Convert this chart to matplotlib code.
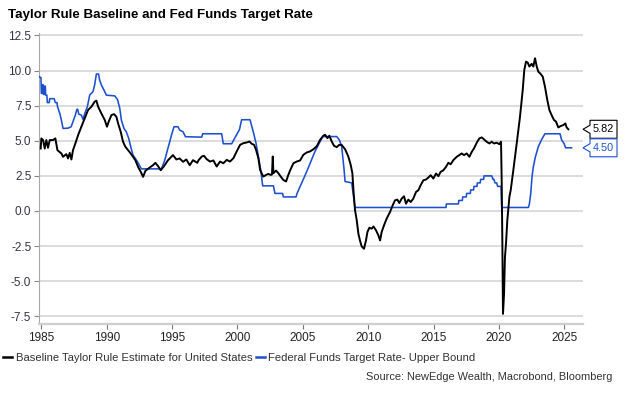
# Taylor rule baseline vs fed funds target rate (upper bound)
import matplotlib
matplotlib.use('Agg')
import matplotlib.pyplot as plt
from matplotlib.patches import Polygon
from matplotlib.ticker import FormatStrFormatter
from matplotlib.lines import Line2D

plt.rcParams['font.family'] = ['Liberation Sans', 'DejaVu Sans']

# --- data (decimal years, percent) ---
taylor_years = [1984.95, 1985.00, 1985.13, 1985.26, 1985.38, 1985.51, 1985.64, 1985.89, 1986.07, 1986.23,
                1986.53, 1986.66, 1986.91, 1987.04, 1987.17, 1987.30, 1987.42, 1987.60, 1987.81, 1988.06,
                1988.32, 1988.57, 1988.83, 1989.08, 1989.21, 1989.34, 1989.59, 1989.85, 1990.02, 1990.15,
                1990.36, 1990.56, 1990.74, 1990.87, 1991.07, 1991.25, 1991.43, 1991.63, 1991.83, 1992.01,
                1992.19, 1992.40, 1992.60, 1992.78, 1992.96, 1993.29, 1993.54, 1993.72, 1993.93, 1994.13,
                1994.38, 1994.69, 1995.07, 1995.33, 1995.58, 1995.84, 1996.09, 1996.35, 1996.60, 1996.93,
                1997.01, 1997.27, 1997.44, 1997.65, 1997.90, 1998.16, 1998.41, 1998.67, 1998.92, 1999.18,
                1999.43, 1999.69, 1999.94, 2000.20, 2000.45, 2000.71, 2000.91, 2001.09, 2001.27, 2001.42,
                2001.60, 2001.73, 2001.85, 2001.98, 2002.19, 2002.36, 2002.54, 2002.64, 2002.70, 2002.75,
                2002.95, 2003.13, 2003.31, 2003.51, 2003.72, 2003.89, 2004.07, 2004.28, 2004.53, 2004.79,
                2005.04, 2005.30, 2005.55, 2005.81, 2006.06, 2006.32, 2006.57, 2006.70, 2006.88, 2007.03,
                2007.21, 2007.39, 2007.59, 2007.79, 2007.97, 2008.23, 2008.48, 2008.66, 2008.79, 2008.87,
                2008.99, 2009.12, 2009.25, 2009.37, 2009.50, 2009.68, 2009.83, 2009.94, 2010.09, 2010.27,
                2010.40, 2010.60, 2010.78, 2010.91, 2011.03, 2011.21, 2011.41, 2011.67, 2011.87, 2012.05,
                2012.23, 2012.38, 2012.56, 2012.74, 2012.89, 2013.07, 2013.25, 2013.45, 2013.66, 2013.84,
                2014.01, 2014.22, 2014.42, 2014.60, 2014.78, 2014.98, 2015.19, 2015.37, 2015.54, 2015.75,
                2015.95, 2016.13, 2016.31, 2016.51, 2016.77, 2016.97, 2017.15, 2017.33, 2017.53, 2017.74,
                2017.92, 2018.09, 2018.30, 2018.50, 2018.68, 2018.86, 2019.06, 2019.27, 2019.45, 2019.62,
                2019.83, 2020.03, 2020.16, 2020.21, 2020.26, 2020.31, 2020.39, 2020.46, 2020.54, 2020.64,
                2020.80, 2020.90, 2021.10, 2021.36, 2021.61, 2021.82, 2021.94, 2022.07, 2022.20, 2022.33,
                2022.50, 2022.63, 2022.76, 2022.89, 2023.01, 2023.19, 2023.35, 2023.52, 2023.70, 2023.86,
                2024.03, 2024.21, 2024.37, 2024.54, 2024.72, 2024.93, 2025.08, 2025.18, 2025.31]
taylor_vals = [4.45, 5.17, 5.05, 4.45, 5.05, 4.50, 5.05, 5.05, 5.17, 4.33,
               4.10, 3.86, 4.05, 3.74, 4.14, 3.67, 4.33, 4.81, 5.40, 6.00,
               6.60, 7.19, 7.43, 7.79, 7.86, 7.43, 6.95, 6.48, 6.00, 6.36,
               6.83, 6.90, 6.71, 6.24, 5.64, 4.93, 4.57, 4.33, 4.10, 3.86,
               3.62, 3.14, 2.79, 2.43, 2.86, 3.10, 3.26, 3.43, 3.19, 2.90,
               3.19, 3.62, 3.98, 3.67, 3.74, 3.50, 3.67, 3.26, 3.62, 3.43,
               3.60, 3.88, 3.93, 3.69, 3.52, 3.60, 3.17, 3.52, 3.40, 3.64,
               3.52, 3.76, 4.24, 4.71, 4.83, 4.88, 4.95, 4.79, 4.71, 4.36,
               3.76, 2.93, 2.69, 2.45, 2.57, 2.64, 2.57, 2.60, 3.88, 2.69,
               2.88, 2.69, 2.45, 2.21, 2.10, 2.57, 2.98, 3.40, 3.52, 3.60,
               4.00, 4.17, 4.24, 4.40, 4.60, 5.07, 5.36, 5.43, 5.19, 5.36,
               4.95, 4.64, 4.55, 4.71, 4.71, 4.40, 3.88, 3.29, 2.69, 1.50,
               0.07, -0.64, -1.62, -2.10, -2.52, -2.69, -2.10, -1.50, -1.19, -1.26,
               -1.10, -1.38, -1.74, -2.10, -1.50, -1.02, -0.55, -0.07, 0.40, 0.76,
               0.81, 0.57, 0.88, 1.05, 0.52, 0.81, 0.64, 0.88, 1.36, 1.48,
               1.83, 2.19, 2.24, 2.38, 2.55, 2.31, 2.67, 2.48, 2.79, 2.90,
               3.14, 3.43, 3.33, 3.62, 3.86, 3.98, 4.10, 3.98, 4.10, 3.86,
               4.21, 4.45, 4.86, 5.17, 5.24, 5.10, 4.93, 4.81, 4.93, 4.81,
               4.86, 4.76, 4.93, 2.19, -2.10, -7.33, -5.90, -3.29, -2.33, -0.67,
               1.00, 1.48, 2.90, 4.81, 6.71, 8.62, 10.05, 10.64, 10.57, 10.29,
               10.48, 10.29, 10.88, 10.29, 9.93, 9.76, 9.57, 8.86, 7.90, 7.19,
               6.83, 6.48, 6.36, 5.95, 6.05, 6.12, 6.24, 5.95, 5.82]

fed_years = [1984.85, 1984.97, 1985.00, 1985.05, 1985.08, 1985.13, 1985.16, 1985.22, 1985.26, 1985.30,
             1985.33, 1985.42, 1985.46, 1985.60, 1985.64, 1985.98, 1986.07, 1986.20, 1986.23, 1986.41,
             1986.53, 1986.66, 1987.04, 1987.28, 1987.42, 1987.60, 1987.72, 1987.78, 1987.86, 1988.06,
             1988.19, 1988.32, 1988.52, 1988.70, 1988.95, 1989.08, 1989.21, 1989.38, 1989.45, 1989.59,
             1989.85, 1989.97, 1990.61, 1990.82, 1991.00, 1991.12, 1991.32, 1991.50, 1991.68, 1991.84,
             1992.01, 1992.19, 1992.40, 1992.65, 1994.13, 1994.23, 1994.44, 1994.64, 1994.82, 1994.95,
             1995.15, 1995.45, 1995.58, 1995.84, 1996.02, 1997.27, 1997.34, 1998.79, 1998.92, 1999.56,
             1999.69, 1999.94, 2000.15, 2000.32, 2000.96, 2001.22, 2001.42, 2001.60, 2001.78, 2001.93,
             2002.75, 2002.87, 2003.45, 2003.51, 2004.48, 2004.56, 2005.30, 2005.93, 2006.52, 2007.59,
             2007.79, 2007.97, 2008.15, 2008.23, 2008.74, 2008.87, 2008.99, 2015.95, 2015.98, 2016.90,
             2016.93, 2017.20, 2017.23, 2017.50, 2017.53, 2017.81, 2017.84, 2018.06, 2018.09, 2018.32,
             2018.35, 2018.57, 2018.60, 2018.83, 2018.86, 2019.45, 2019.55, 2019.62, 2019.70, 2019.83,
             2019.90, 2020.16, 2020.21, 2022.25, 2022.33, 2022.43, 2022.53, 2022.63, 2022.79, 2023.01,
             2023.27, 2023.52, 2024.67, 2024.80, 2024.98, 2025.10, 2025.56]
fed_vals = [9.55, 9.50, 8.38, 8.38, 9.00, 9.00, 8.30, 8.30, 8.90, 8.90,
            8.25, 8.25, 7.72, 7.72, 8.00, 8.00, 7.72, 7.72, 7.45, 6.95,
            6.48, 5.88, 5.90, 6.00, 6.36, 6.83, 7.24, 7.24, 6.90, 6.83,
            6.52, 6.95, 7.43, 8.26, 8.50, 9.00, 9.76, 9.75, 9.35, 8.98,
            8.50, 8.25, 8.20, 7.95, 7.31, 6.48, 5.88, 5.64, 5.17, 4.57,
            3.98, 3.74, 3.43, 3.00, 3.00, 3.10, 3.62, 4.33, 4.93, 5.40,
            6.00, 6.00, 5.76, 5.64, 5.29, 5.26, 5.50, 5.50, 4.79, 4.79,
            5.02, 5.43, 5.79, 6.50, 6.50, 5.60, 4.83, 3.88, 2.93, 1.79,
            1.79, 1.25, 1.25, 1.00, 1.00, 1.25, 2.81, 4.24, 5.30, 5.30,
            5.07, 4.60, 3.00, 2.10, 2.00, 1.12, 0.25, 0.25, 0.50, 0.50,
            0.75, 0.75, 1.00, 1.00, 1.25, 1.25, 1.50, 1.50, 1.75, 1.75,
            2.00, 2.00, 2.25, 2.25, 2.50, 2.50, 2.25, 2.25, 2.00, 2.00,
            1.75, 1.75, 0.25, 0.25, 0.50, 1.24, 2.43, 3.14, 3.86, 4.57,
            5.10, 5.50, 5.50, 5.05, 4.81, 4.50, 4.50]

year_ticks = [1985, 1990, 1995, 2000, 2005, 2010, 2015, 2020, 2025]
value_ticks = [-7.5, -5.0, -2.5, 0.0, 2.5, 5.0, 7.5, 10.0, 12.5]

taylor_label = 'Baseline Taylor Rule Estimate for United States'
fed_label = 'Federal Funds Target Rate- Upper Bound'

black = '#000000'
blue = '#1d50cf'
grid_col = '#d2d2d2'
txt_col = '#333333'

fig = plt.figure(figsize=(6.25, 3.93), dpi=100)
ax = fig.add_axes([0.0624, 0.1756, 0.8704, 0.7405])

ax.plot(fed_years, fed_vals, color=blue, lw=1.15, zorder=3)
ax.plot(taylor_years, taylor_vals, color=black, lw=1.4, zorder=4)

ax.set_xlim(1984.82, 2026.43)
ax.set_ylim(-8.05, 12.68)
ax.set_xticks(year_ticks)
ax.set_yticks(value_ticks)
ax.yaxis.set_major_formatter(FormatStrFormatter('%.1f'))

ax.grid(axis='y', color=grid_col, lw=1.1)
ax.set_axisbelow(True)
for s in ['top', 'right']:
    ax.spines[s].set_visible(False)
ax.spines['left'].set_color('#a8a8a8')
ax.spines['left'].set_linewidth(0.8)
ax.spines['bottom'].set_color('#cfcfcf')
ax.spines['bottom'].set_linewidth(1.6)
ax.tick_params(axis='y', length=3.5, width=0.8, color='#888888', labelsize=8.5, labelcolor='#333344', pad=2)
ax.tick_params(axis='x', length=3.5, width=0.8, color='#777777', labelsize=8.5, labelcolor='#222222', pad=2)

# end value tags on the right
def end_tag(y, text, edge, tcol):
    tr = ax.get_yaxis_transform()
    tip, xl, xr = 1.0, 1.0 + 7 / 544, 1.0 + 34 / 544
    h, n = 0.64, 0.29
    pts = [(xl, y + h), (xr, y + h), (xr, y - h), (xl, y - h), (xl, y - n), (tip, y), (xl, y + n)]
    ax.add_patch(Polygon(pts, closed=True, transform=tr, facecolor='white', edgecolor=edge,
                         lw=0.8, clip_on=False, zorder=5))
    ax.text((xl + xr) / 2, y, text, transform=tr, ha='center', va='center', fontsize=7.8,
            color=tcol, clip_on=False, zorder=6)

end_tag(taylor_vals[-1], '%.2f' % taylor_vals[-1], black, black)
end_tag(fed_vals[-1], '%.2f' % fed_vals[-1], blue, blue)

fig.text(0.012, 1 - 15 / 393, 'Taylor Rule Baseline and Fed Funds Target Rate', fontsize=9.6,
         fontweight='bold', ha='left', va='center', color='black')

handles = [Line2D([], [], color=black, lw=1.8), Line2D([], [], color=blue, lw=1.8)]
fig.legend(handles, [taylor_label, fed_label], loc='center left', bbox_to_anchor=(0.005, 1 - 358 / 393),
           ncol=2, frameon=False, fontsize=8.1, handlelength=0.8, handletextpad=0.3,
           columnspacing=0.3, borderaxespad=0, borderpad=0, labelcolor=txt_col)

fig.text(0.979, 1 - 377 / 393, 'Source: NewEdge Wealth, Macrobond, Bloomberg', fontsize=7.9,
         ha='right', va='center', color=txt_col)

fig.savefig('out.png', dpi=100)
